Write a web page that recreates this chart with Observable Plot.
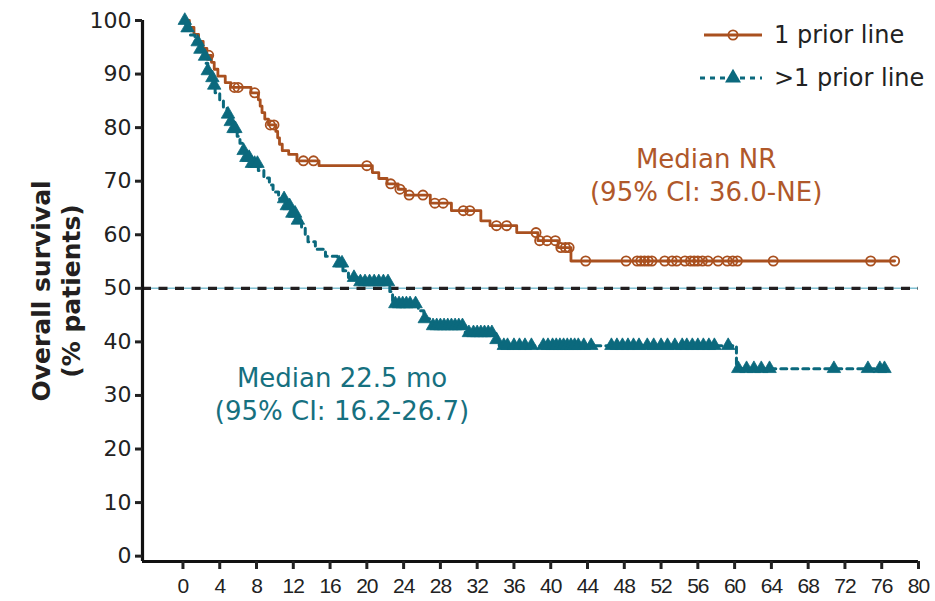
<!DOCTYPE html>
<html>
<head>
<meta charset="utf-8">
<script src="https://cdn.jsdelivr.net/npm/d3@7"></script>
<script src="https://cdn.jsdelivr.net/npm/@observablehq/plot@0.6"></script>
<style>
  html, body { margin: 0; padding: 0; background: #fff; }
  #wrap { position: relative; width: 935px; height: 601px; }
  #legend { position: absolute; left: 698px; top: 13px; font-family: "DejaVu Sans", sans-serif; font-size: 24px; color: #222; }
  #legend .row { display: flex; align-items: center; height: 43px; }
  #legend svg { margin-right: 10px; }
  [aria-label="x-axis tick label"] text { letter-spacing: -1px; }
</style>
</head>
<body>
<div id="wrap">
  <div id="chart"></div>
  <div id="legend"></div>
</div>
<script>
// ---- data ----
const seriesNames = ["1 prior line", ">1 prior line"];
const colors = ["#a9501f", "#0b697d"];

// 1 prior line: Kaplan–Meier step points (month, % surviving)
const prior1Time = [0, 0.7, 1.2, 1.7, 2.2, 2.6, 3.1, 3.4, 3.8, 4.6, 5.2, 7.4, 8.2, 8.4, 8.6, 8.9, 9.3, 10.1, 10.3, 10.5, 10.8, 11.5, 12.4, 14.8, 20.6, 21.3, 22.2, 23.4, 24.2, 26.9, 29.2, 32.4, 33.4, 36.3, 38.6, 40.8, 42.2, 77.4];
const prior1Surv = [100, 98.7, 97.4, 96.1, 94.8, 93.5, 92.2, 90.9, 89.6, 88.4, 87.5, 86.5, 85.2, 84.0, 82.8, 81.6, 80.5, 79.3, 78.1, 76.9, 75.7, 75.0, 73.8, 72.9, 71.6, 70.5, 69.5, 68.5, 67.4, 65.9, 64.5, 62.6, 61.7, 60.4, 58.9, 57.6, 55.1, 55.1];
const prior1Censor = [2.8, 5.6, 6.0, 7.8, 9.5, 9.9, 13.1, 14.2, 20.0, 22.6, 23.6, 24.6, 26.1, 27.4, 28.3, 30.5, 31.2, 34.1, 35.2, 38.4, 38.8, 39.6, 40.5, 41.1, 41.6, 42.0, 43.8, 48.2, 49.4, 49.8, 50.2, 50.6, 51.0, 52.4, 53.2, 53.7, 54.6, 55.2, 55.6, 56.0, 56.5, 57.1, 58.2, 59.2, 59.8, 60.3, 64.2, 74.8, 77.4];

// >1 prior line
const prior2Time = [0, 0.3, 0.8, 1.3, 1.8, 2.2, 2.5, 2.7, 3.0, 3.3, 3.5, 4.0, 4.4, 4.8, 5.1, 5.5, 5.9, 6.2, 6.5, 6.9, 7.5, 8.2, 8.8, 9.4, 9.8, 10.4, 11.2, 11.8, 12.3, 12.9, 13.3, 13.6, 14.4, 15.5, 16.8, 17.4, 18.0, 19.0, 22.5, 22.8, 25.6, 26.2, 27.0, 30.7, 34.0, 34.4, 60.2, 76.8];
const prior2Surv = [100, 98.6, 97.3, 96.0, 94.6, 93.3, 92.0, 90.6, 89.3, 87.9, 86.5, 85.2, 83.8, 82.5, 81.1, 79.8, 78.4, 77.1, 75.7, 74.4, 73.3, 72.0, 70.6, 69.3, 68.0, 66.7, 65.4, 64.0, 62.7, 61.3, 60.0, 58.7, 57.3, 56.0, 54.7, 53.3, 52.0, 51.2, 49.4, 47.1, 45.8, 44.3, 43.0, 41.7, 40.4, 39.3, 35.0, 35.0];
const prior2Censor = [0.2, 0.5, 1.6, 1.9, 2.4, 2.7, 3.2, 3.4, 4.9, 5.2, 5.5, 5.7, 6.6, 6.9, 7.2, 7.5, 7.8, 8.1, 11.0, 11.3, 11.6, 11.9, 12.2, 12.5, 17.0, 17.3, 18.6, 19.3, 19.8, 20.3, 20.8, 21.3, 21.8, 22.3, 23.1, 23.5, 23.9, 24.3, 24.7, 25.3, 26.3, 27.2, 27.6, 28.0, 28.4, 28.8, 29.2, 29.6, 30.0, 30.4, 31.1, 31.6, 32.0, 32.4, 32.8, 33.2, 33.6, 34.1, 34.9, 35.3, 36.0, 36.6, 37.2, 37.9, 39.2, 39.7, 40.2, 40.6, 41.0, 41.4, 41.8, 42.2, 42.6, 43.0, 43.6, 44.4, 46.6, 47.2, 47.8, 48.4, 49.0, 49.6, 50.5, 51.2, 52.0, 52.7, 53.5, 54.3, 54.8, 55.4, 56.0, 56.6, 57.2, 57.8, 59.3, 60.4, 61.3, 62.1, 62.9, 63.8, 70.8, 74.5, 75.8, 76.3];

const medianLine = 50;
const xTicks = d3.range(0, 81, 4);
const yTicks = d3.range(0, 101, 10);
const annotations = [
  "Median NR\n(95% CI: 36.0-NE)",
  "Median 22.5 mo\n(95% CI: 16.2-26.7)"
];

// ---- build tables ----
const steps = (t, s) => t.map((x, i) => ({x, y: s[i]}));
const survAt = (t, s, time) => { let v = s[0]; for (let i = 0; i < t.length; i++) if (t[i] <= time) v = s[i]; return v; };
const line1 = steps(prior1Time, prior1Surv);
const line2 = steps(prior2Time, prior2Surv);
const cens1 = prior1Censor.map(x => ({x, y: survAt(prior1Time, prior1Surv, x)}));
const cens2 = prior2Censor.map(x => ({x, y: survAt(prior2Time, prior2Surv, x)}));

const xDomain = [-4.4, 80];
const yDomain = [-1, 100];

const chart = Plot.plot({
  width: 935,
  height: 601,
  marginTop: 20,
  marginBottom: 40,
  marginLeft: 142,
  marginRight: 17,
  style: {fontFamily: "DejaVu Sans, sans-serif", background: "white", overflow: "visible"},
  x: {domain: xDomain, label: null},
  y: {domain: yDomain, label: null},
  marks: [
    Plot.ruleY([medianLine], {x1: xDomain[0], x2: 80, stroke: "#7fc0d2", strokeWidth: 1.6}),
    Plot.ruleY([medianLine], {x1: xDomain[0], x2: 80, stroke: "#231f20", strokeWidth: 3.2, strokeDasharray: "9,7.5"}),
    Plot.line(line1, {x: "x", y: "y", curve: "step-after", stroke: colors[0], strokeWidth: 2.8}),
    Plot.line(line2, {x: "x", y: "y", curve: "step-after", stroke: colors[1], strokeWidth: 3, strokeDasharray: "6,5"}),
    Plot.dot(cens1, {x: "x", y: "y", r: 4.6, symbol: "circle", stroke: colors[0], strokeWidth: 1.8, fill: "none"}),
    Plot.dot(cens2, {x: "x", y: "y", r: 5, symbol: "triangle", fill: colors[1], stroke: colors[1], strokeWidth: 0.8}),
    Plot.text([annotations[0]], {x: () => 56.9, y: () => 71.4, text: d => d, fill: "#b0582a", fontSize: 26, lineHeight: 1.27, textAnchor: "middle", lineAnchor: "middle"}),
    Plot.text([annotations[1]], {x: () => 17.3, y: () => 30.4, text: d => d, fill: "#16707f", fontSize: 26, lineHeight: 1.27, textAnchor: "middle", lineAnchor: "middle"}),
    Plot.ruleX([xDomain[0]], {stroke: "#111", strokeWidth: 3.2}),
    Plot.ruleY([yDomain[0]], {stroke: "#111", strokeWidth: 3.2}),
    Plot.axisY({ticks: yTicks, tickSize: 7, strokeWidth: 3, tickPadding: 4, fontSize: 22, color: "#222", anchor: "left", label: null}),
    Plot.axisX({ticks: xTicks, tickSize: 8, strokeWidth: 3, tickPadding: 9, fontSize: 21, fontFamily: "Liberation Sans, Arial, sans-serif", color: "#222", anchor: "bottom", label: null}),
    Plot.text(["Overall survival\n(% patients)"], {frameAnchor: "left", rotate: -90, dx: -87, text: d => d, fontSize: 25, fontWeight: "bold", fill: "#231f20", lineHeight: 1.2, textAnchor: "middle", lineAnchor: "middle"})
  ]
});
document.getElementById("chart").append(chart);

// ---- legend ----
const legend = d3.select("#legend");
seriesNames.forEach((name, i) => {
  const row = legend.append("div").attr("class", "row");
  const svg = row.append("svg").attr("width", 66).attr("height", 24);
  if (i === 0) {
    svg.append("line").attr("x1", 6).attr("x2", 64).attr("y1", 12).attr("y2", 12).attr("stroke", colors[0]).attr("stroke-width", 3);
    svg.append("circle").attr("cx", 35).attr("cy", 12).attr("r", 4.6).attr("fill", "none").attr("stroke", colors[0]).attr("stroke-width", 1.8);
  } else {
    svg.append("line").attr("x1", 2).attr("x2", 64).attr("y1", 12).attr("y2", 12).attr("stroke", colors[1]).attr("stroke-width", 3).attr("stroke-dasharray", "5,5");
    svg.append("path").attr("d", d3.symbol(d3.symbolTriangle, 110)()).attr("transform", "translate(35,12)").attr("fill", colors[1]);
  }
  row.append("span").text(name);
});
</script>
</body>
</html>
